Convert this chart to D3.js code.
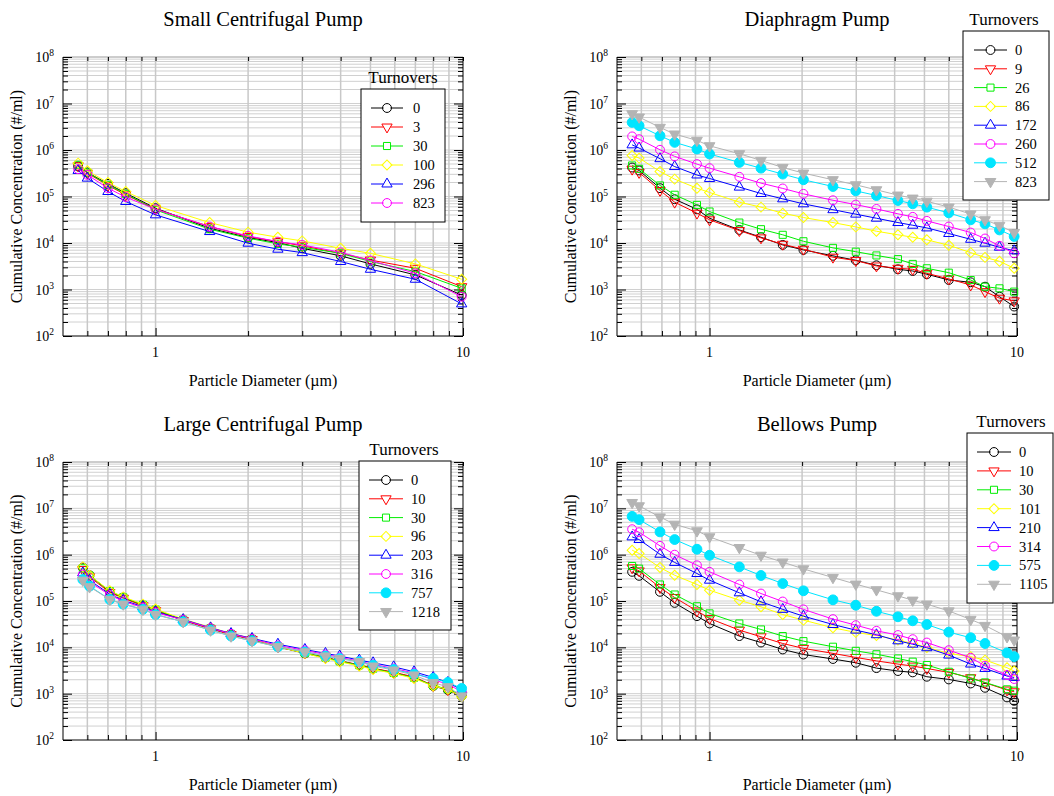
<!DOCTYPE html>
<html><head><meta charset="utf-8">
<script src="https://cdn.jsdelivr.net/npm/d3@7"></script>
<style>
body{margin:0;background:#fff}
text{font-family:"Liberation Serif","Times New Roman",Times,serif;fill:#000}
</style>
</head><body>
<svg id="c" width="1054" height="796"></svg>
<script>
// ---------------- DATA ----------------
const xTickLabels = [1, 10];
const yTickExponents = [2, 3, 4, 5, 6, 7, 8];
const legendTitle = "Turnovers";

// Small Centrifugal Pump
const smallTitle = "Small Centrifugal Pump";
const smallDiam = [0.56, 0.6, 0.7, 0.8, 1, 1.5, 2, 2.5, 3, 4, 5, 7, 9.9];
const smallTurnovers = ["0", "3", "30", "100", "296", "823"];
const small_0   = [4.43e5, 3.29e5, 1.87e5, 1.18e5, 5.6e4, 2.08e4, 1.31e4, 1.02e4, 7.7e3, 5.3e3, 3.55e3, 2.06e3, 7.6e2];
const small_3   = [4.57e5, 3.18e5, 1.73e5, 1.09e5, 5.33e4, 2.26e4, 1.38e4, 1.07e4, 8.7e3, 6.0e3, 4.3e3, 2.86e3, 1.15e3];
const small_30  = [4.81e5, 3.29e5, 1.78e5, 1.14e5, 5.16e4, 1.98e4, 1.27e4, 9.6e3, 8.1e3, 6.0e3, 4.0e3, 2.43e3, 1.06e3];
const small_100 = [5.22e5, 3.57e5, 2.0e5, 1.28e5, 6.4e4, 2.75e4, 1.71e4, 1.33e4, 1.11e4, 7.7e3, 6.0e3, 3.55e3, 1.66e3];
const small_296 = [3.63e5, 2.48e5, 1.28e5, 7.8e4, 4.03e4, 1.76e4, 9.9e3, 7.35e3, 6.2e3, 4.0e3, 2.72e3, 1.66e3, 4.9e2];
const small_823 = [3.87e5, 2.92e5, 1.51e5, 9.7e4, 5.33e4, 2.26e4, 1.42e4, 1.07e4, 9.1e3, 6.3e3, 4.2e3, 2.23e3, 7.0e2];

// Diaphragm Pump
const diaTitle = "Diaphragm Pump";
const diaDiam = [0.56, 0.59, 0.69, 0.77, 0.91, 1.0, 1.25, 1.47, 1.73, 2.02, 2.52, 2.99, 3.49, 4.1, 4.58, 5.09, 6.0, 7.07, 7.87, 8.77, 9.79];
const diaTurnovers = ["0", "9", "26", "86", "172", "260", "512", "823"];
const dia_0   = [4.2e5, 3.63e5, 1.51e5, 8.75e4, 5.3e4, 3.41e4, 1.91e4, 1.33e4, 9.1e3, 7.1e3, 5.3e3, 4.25e3, 3.32e3, 2.72e3, 2.5e3, 2.13e3, 1.6e3, 1.43e3, 1.15e3, 7.0e2, 4.3e2];
const dia_9   = [3.87e5, 3.29e5, 1.35e5, 7.55e4, 4.38e4, 3.15e4, 1.85e4, 1.29e4, 9.4e3, 7.35e3, 4.95e3, 4.19e3, 3.21e3, 2.86e3, 2.72e3, 2.23e3, 1.69e3, 1.25e3, 9.0e2, 6.5e2, 5.7e2];
const dia_26  = [4.65e5, 3.94e5, 1.73e5, 1.09e5, 6.6e4, 4.75e4, 2.75e4, 1.98e4, 1.5e4, 1.09e4, 7.85e3, 6.5e3, 5.4e3, 4.5e3, 3.55e3, 2.86e3, 2.3e3, 1.6e3, 1.15e3, 1.06e3, 9.0e2];
const dia_86  = [7.6e5, 6.7e5, 3.45e5, 2.36e5, 1.51e5, 1.22e5, 7.55e4, 5.9e4, 4.38e4, 3.53e4, 2.75e4, 2.22e4, 1.79e4, 1.5e4, 1.33e4, 1.17e4, 8.95e3, 6.2e3, 4.9e3, 4.05e3, 2.86e3];
const dia_172 = [1.29e6, 1.1e6, 6.5e5, 4.4e5, 2.9e5, 2.44e5, 1.59e5, 1.16e5, 8.9e4, 6.95e4, 5.2e4, 4.17e4, 3.41e4, 2.75e4, 2.41e4, 2.11e4, 1.6e4, 1.2e4, 9.9e3, 8.1e3, 6.8e3];
const dia_260 = [1.96e6, 1.71e6, 1.01e6, 7.3e5, 4.97e5, 4.07e5, 2.65e5, 1.94e5, 1.49e5, 1.14e5, 8.3e4, 6.7e4, 5.4e4, 4.24e4, 3.65e4, 2.99e4, 2.26e4, 1.68e4, 1.25e4, 8.7e3, 6.0e3];
const dia_512 = [3.92e6, 3.32e6, 2.02e6, 1.46e6, 1.05e6, 8.2e5, 5.4e5, 4.07e5, 3.03e5, 2.29e5, 1.64e5, 1.32e5, 1.05e5, 8.2e4, 6.95e4, 5.9e4, 4.45e4, 3.15e4, 2.58e4, 1.91e4, 1.38e4];
const dia_823 = [6.0e6, 5.1e6, 3.06e6, 2.2e6, 1.61e6, 1.23e6, 8.3e5, 5.96e5, 4.2e5, 3.18e5, 2.29e5, 1.78e5, 1.39e5, 1.07e5, 9.2e4, 7.9e4, 5.9e4, 4.2e4, 3.15e4, 2.38e4, 1.68e4];

// Large Centrifugal Pump
const largeTitle = "Large Centrifugal Pump";
const largeDiam = [0.58, 0.61, 0.71, 0.785, 0.91, 1.0, 1.23, 1.51, 1.76, 2.06, 2.5, 3.06, 3.57, 3.97, 4.6, 5.1, 5.95, 6.93, 8.0, 8.93, 9.9];
const largeTurnovers = ["0", "10", "30", "96", "203", "316", "757", "1218"];
const large_0    = [5.27e5, 3.6e5, 1.58e5, 1.19e5, 8.1e4, 6.3e4, 3.86e4, 2.55e4, 1.9e4, 1.5e4, 1.03e4, 7.4e3, 6.05e3, 5.1e3, 4.14e3, 3.5e3, 2.83e3, 2.24e3, 1.46e3, 1.2e3, 8.9e2];
const large_10   = [4.78e5, 3.32e5, 1.52e5, 1.15e5, 7.9e4, 6.2e4, 3.8e4, 2.5e4, 1.88e4, 1.48e4, 1.02e4, 7.6e3, 6.1e3, 5.1e3, 4.2e3, 3.55e3, 2.9e3, 2.3e3, 1.5e3, 1.22e3, 9.0e2];
const large_30   = [5.1e5, 3.55e5, 1.63e5, 1.2e5, 8.3e4, 6.5e4, 3.95e4, 2.6e4, 1.95e4, 1.52e4, 1.05e4, 7.5e3, 6.0e3, 5.0e3, 4.1e3, 3.45e3, 2.8e3, 2.2e3, 1.5e3, 1.25e3, 9.5e2];
const large_96   = [5.46e5, 3.6e5, 1.66e5, 1.23e5, 8.55e4, 6.7e4, 4.06e4, 2.69e4, 1.99e4, 1.56e4, 1.03e4, 7.4e3, 5.75e3, 4.9e3, 3.94e3, 3.33e3, 2.74e3, 2.13e3, 1.46e3, 1.24e3, 8.6e2];
const large_203  = [4.05e5, 2.81e5, 1.4e5, 1.04e5, 7.5e4, 5.85e4, 3.99e4, 2.64e4, 1.99e4, 1.56e4, 1.17e4, 9.0e3, 7.4e3, 6.5e3, 5.3e3, 4.65e3, 3.8e3, 2.97e3, 2.24e3, 1.75e3, 1.2e3];
const large_316  = [3.72e5, 2.59e5, 1.34e5, 9.9e4, 7.2e4, 5.65e4, 3.9e4, 2.6e4, 1.95e4, 1.52e4, 1.1e4, 8.6e3, 7.0e3, 6.1e3, 5.0e3, 4.3e3, 3.5e3, 2.8e3, 2.0e3, 1.6e3, 1.1e3];
const large_757  = [2.91e5, 2.09e5, 1.08e5, 8.55e4, 6.6e4, 5.1e4, 3.56e4, 2.35e4, 1.75e4, 1.38e4, 1.03e4, 8.0e3, 6.5e3, 5.75e3, 4.9e3, 4.14e3, 3.33e3, 2.65e3, 2.13e3, 1.75e3, 1.3e3];
const large_1218 = [2.81e5, 2.02e5, 1.08e5, 8.55e4, 6.6e4, 5.1e4, 3.56e4, 2.35e4, 1.75e4, 1.38e4, 1.03e4, 8.0e3, 6.5e3, 5.75e3, 4.9e3, 3.94e3, 3.23e3, 2.52e3, 1.72e3, 1.41e3, 8.9e2];

// Bellows Pump
const belTitle = "Bellows Pump";
const belDiam = [0.56, 0.59, 0.69, 0.77, 0.91, 1.0, 1.25, 1.47, 1.73, 2.02, 2.52, 2.99, 3.49, 4.1, 4.58, 5.09, 6.0, 7.07, 7.87, 9.28, 9.79];
const belTurnovers = ["0", "10", "30", "101", "210", "314", "575", "1105"];
const bel_0    = [4.26e5, 3.49e5, 1.58e5, 9.1e4, 4.71e4, 3.27e4, 1.75e4, 1.27e4, 9.0e3, 7.0e3, 5.6e3, 4.65e3, 3.56e3, 3.08e3, 2.88e3, 2.32e3, 2.03e3, 1.66e3, 1.34e3, 8.3e2, 7.0e2];
const bel_10   = [5.2e5, 4.47e5, 1.95e5, 1.19e5, 6.1e4, 4.2e4, 2.35e4, 1.69e4, 1.21e4, 9.5e3, 7.4e3, 6.05e3, 5.1e3, 4.35e3, 3.94e3, 3.5e3, 2.88e3, 2.21e3, 1.72e3, 1.2e3, 1.1e3];
const bel_30   = [5.7e5, 5.0e5, 2.27e5, 1.38e5, 7.7e4, 5.4e4, 3.27e4, 2.43e4, 1.75e4, 1.36e4, 1.03e4, 8.4e3, 7.1e3, 5.75e3, 4.9e3, 4.15e3, 2.97e3, 2.13e3, 1.75e3, 1.24e3, 1.16e3];
const bel_101  = [1.25e6, 1.06e6, 5.27e5, 3.6e5, 2.27e5, 1.71e5, 1.04e5, 7.5e4, 5.1e4, 3.86e4, 2.64e4, 2.1e4, 1.8e4, 1.43e4, 1.21e4, 9.95e3, 7.4e3, 6.3e3, 5.3e3, 3.63e3, 3.08e3];
const bel_210  = [2.42e6, 2.12e6, 1.02e6, 6.8e5, 3.92e5, 2.81e5, 1.5e5, 9.6e4, 6.6e4, 4.71e4, 3.11e4, 2.35e4, 1.87e4, 1.38e4, 1.17e4, 9.8e3, 6.8e3, 4.35e3, 3.5e3, 2.4e3, 2.24e3];
const bel_314  = [3.54e6, 3.05e6, 1.55e6, 1.0e6, 5.9e5, 4.26e5, 2.27e5, 1.45e5, 9.75e4, 6.6e4, 4.06e4, 3.01e4, 2.27e4, 1.84e4, 1.5e4, 1.27e4, 8.7e3, 5.95e3, 4.0e3, 2.52e3, 2.07e3];
const bel_575  = [6.7e6, 5.7e6, 3.1e6, 2.12e6, 1.31e6, 9.7e5, 5.45e5, 3.55e5, 2.38e5, 1.66e5, 1.06e5, 8.1e4, 6.0e4, 4.56e4, 3.74e4, 3.11e4, 2.13e4, 1.61e4, 1.21e4, 7.6e3, 6.3e3];
const bel_1105 = [1.33e7, 1.13e7, 6.5e6, 4.53e6, 3.26e6, 2.42e6, 1.42e6, 9.7e5, 6.9e5, 4.93e5, 3.21e5, 2.31e5, 1.74e5, 1.29e5, 1.04e5, 8.55e4, 6.1e4, 3.99e4, 2.96e4, 1.69e4, 1.43e4];

// ---------------- STYLE / LAYOUT ----------------
const seriesColors = ["#000000", "#ff0000", "#00ee00", "#ffff00", "#0000ff", "#ff00ff", "#00e5ff", "#b4b4b4"];
const seriesShapes = ["circle", "tridown", "square", "diamond", "triup", "circle", "dot", "tridownfill"];

const panels = [
  { title: smallTitle, diam: smallDiam, labels: smallTurnovers,
    series: [small_0, small_3, small_30, small_100, small_296, small_823],
    box: [63, 57, 463, 336],
    leg: { tx: 403, ty: 83, bx0: 361, by0: 89, bx1: 445, by1: 222, row0: 108, dy: 19, lx0: 371, lx1: 403, textX: 413 } },
  { title: diaTitle, diam: diaDiam, labels: diaTurnovers,
    series: [dia_0, dia_9, dia_26, dia_86, dia_172, dia_260, dia_512, dia_823],
    box: [617, 57, 1017, 336],
    leg: { tx: 1004, ty: 25, bx0: 963, by0: 31, bx1: 1049, by1: 200, row0: 50, dy: 18.8, lx0: 974, lx1: 1007, textX: 1015 } },
  { title: largeTitle, diam: largeDiam, labels: largeTurnovers,
    series: [large_0, large_10, large_30, large_96, large_203, large_316, large_757, large_1218],
    box: [63, 462, 463, 740],
    leg: { tx: 404, ty: 455, bx0: 359, by0: 461, bx1: 451, by1: 630, row0: 480, dy: 18.8, lx0: 369, lx1: 403, textX: 411 } },
  { title: belTitle, diam: belDiam, labels: belTurnovers,
    series: [bel_0, bel_10, bel_30, bel_101, bel_210, bel_314, bel_575, bel_1105],
    box: [617, 462, 1017, 740],
    leg: { tx: 1011, ty: 427, bx0: 967, by0: 433, bx1: 1053, by1: 603, row0: 452, dy: 18.9, lx0: 977, lx1: 1011, textX: 1019 } }
];

const svg = d3.select("#c");

const shapeSpec = {
  circle:      { type: d3.symbolCircle,   size: 62, rot: 0,   filled: false },
  dot:         { type: d3.symbolCircle,   size: 76, rot: 0,   filled: true },
  square:      { type: d3.symbolSquare,   size: 50, rot: 0,   filled: false },
  diamond:     { type: d3.symbolSquare,   size: 50, rot: 45,  filled: false },
  triup:       { type: d3.symbolTriangle, size: 46, rot: 0,   filled: false },
  tridown:     { type: d3.symbolTriangle, size: 46, rot: 180, filled: false },
  tridownfill: { type: d3.symbolTriangle, size: 50, rot: 180, filled: true }
};

function marker(sel, shape, color) {
  const s = shapeSpec[shape];
  sel.append("path")
    .attr("d", d3.symbol().type(s.type).size(s.size)())
    .attr("transform", `rotate(${s.rot})`)
    .attr("fill", s.filled ? color : "none")
    .attr("stroke", color)
    .attr("stroke-width", 1);
}

function drawPanel(p) {
  const [x0, y0, x1, y1] = p.box;
  const xs = d3.scaleLog().domain([0.5, 10]).range([x0, x1]);
  const ys = d3.scaleLog().domain([1e2, 1e8]).range([y1, y0]);
  const g = svg.append("g");

  const xGrid = [0.6, 0.7, 0.8, 0.9, 1, 2, 3, 4, 5, 6, 7, 8, 9];
  const yMinor = [];
  const yMajor = yTickExponents.map(e => Math.pow(10, e));
  for (let e = 2; e < 8; e++) for (let k = 2; k <= 9; k++) yMinor.push(k * Math.pow(10, e));

  // grid
  g.append("g").selectAll("line").data(yMinor.concat(yMajor.slice(1, -1))).join("line")
    .attr("x1", x0).attr("x2", x1).attr("y1", d => ys(d)).attr("y2", d => ys(d))
    .attr("stroke", "#d0d0d0").attr("stroke-width", 1);
  g.append("g").selectAll("line").data(xGrid).join("line")
    .attr("x1", d => xs(d)).attr("x2", d => xs(d)).attr("y1", y0).attr("y2", y1)
    .attr("stroke", "#c8c8c8").attr("stroke-width", 1.5);

  g.append("line").attr("x1", x0).attr("x2", x1).attr("y1", y0).attr("y2", y0)
    .attr("stroke", "#9a9a9a").attr("stroke-width", 1);

  const strip = s => s.select(".domain").remove();
  g.append("g").attr("transform", `translate(${x0},0)`)
    .call(d3.axisLeft(ys).tickValues(yMinor).tickSize(-5).tickFormat("")).call(strip);
  g.append("g").attr("transform", `translate(${x0},0)`)
    .call(d3.axisLeft(ys).tickValues(yMajor).tickSize(-9).tickFormat("")).call(strip);
  g.append("g").attr("transform", `translate(${x1},0)`)
    .call(d3.axisRight(ys).tickValues(yMinor).tickSize(-5).tickFormat("")).call(strip);
  g.append("g").attr("transform", `translate(${x1},0)`)
    .call(d3.axisRight(ys).tickValues(yMajor).tickSize(-9).tickFormat("")).call(strip);
  const xMinor = [0.6, 0.7, 0.8, 0.9, 2, 3, 4, 5, 6, 7, 8, 9];
  g.append("g").attr("transform", `translate(0,${y1})`)
    .call(d3.axisBottom(xs).tickValues(xMinor).tickSize(-5).tickFormat("")).call(strip);
  g.append("g").attr("transform", `translate(0,${y1})`)
    .call(d3.axisBottom(xs).tickValues(xTickLabels).tickSize(-8).tickFormat("")).call(strip);
  g.append("g").attr("transform", `translate(0,${y0})`)
    .call(d3.axisTop(xs).tickValues(xMinor.concat(xTickLabels)).tickSize(-4).tickFormat("")).call(strip);
  g.selectAll(".tick line").attr("stroke", "#000").attr("stroke-width", 1);

  g.append("line").attr("x1", x0).attr("x2", x0).attr("y1", y0).attr("y2", y1).attr("stroke", "#000");
  g.append("line").attr("x1", x1).attr("x2", x1).attr("y1", y0).attr("y2", y1).attr("stroke", "#000");
  g.append("line").attr("x1", x0).attr("x2", x1).attr("y1", y1).attr("y2", y1).attr("stroke", "#000");

  yTickExponents.forEach(e => {
    const t = g.append("text").attr("x", x0 - 9).attr("y", ys(Math.pow(10, e)) + 5)
      .attr("text-anchor", "end").style("font-size", "14px");
    t.append("tspan").text("10");
    t.append("tspan").attr("dy", -6).style("font-size", "9.5px").text(String(e));
  });
  xTickLabels.forEach(v => {
    g.append("text").attr("x", xs(v)).attr("y", y1 + 21).attr("text-anchor", "middle")
      .style("font-size", "14px").text(String(v));
  });

  g.append("text").attr("x", (x0 + x1) / 2).attr("y", y0 - 31).attr("text-anchor", "middle")
    .style("font-size", "20.5px").text(p.title);
  g.append("text").attr("x", (x0 + x1) / 2).attr("y", y1 + 50).attr("text-anchor", "middle")
    .style("font-size", "16px").text("Particle Diameter (\u00b5m)");
  g.append("text").attr("transform", `translate(${x0 - 41},${(y0 + y1) / 2}) rotate(-90)`)
    .attr("text-anchor", "middle").style("font-size", "16px").text("Cumulative Concentration (#/ml)");

  const line = d3.line().x(d => xs(d[0])).y(d => ys(d[1]));
  p.series.forEach((vals, i) => {
    const pts = p.diam.map((d, j) => [d, vals[j]]);
    const color = seriesColors[i];
    const sg = g.append("g");
    sg.append("path").attr("d", line(pts)).attr("fill", "none").attr("stroke", color).attr("stroke-width", 1);
    pts.forEach(pt => {
      const mg = sg.append("g").attr("transform", `translate(${xs(pt[0])},${ys(pt[1])})`);
      marker(mg, seriesShapes[i], color);
    });
  });

  const L = p.leg;
  g.append("text").attr("x", L.tx).attr("y", L.ty).attr("text-anchor", "middle")
    .style("font-size", "17px").text(legendTitle);
  g.append("rect").attr("x", L.bx0).attr("y", L.by0).attr("width", L.bx1 - L.bx0).attr("height", L.by1 - L.by0)
    .attr("fill", "#fff").attr("stroke", "#000").attr("stroke-width", 1);
  p.labels.forEach((lab, i) => {
    const yy = L.row0 + i * L.dy;
    const color = seriesColors[i];
    g.append("line").attr("x1", L.lx0).attr("x2", L.lx1).attr("y1", yy).attr("y2", yy)
      .attr("stroke", color).attr("stroke-width", 1);
    const mg = g.append("g").attr("transform", `translate(${(L.lx0 + L.lx1) / 2},${yy})`);
    mg.append("rect").attr("x", -3.5).attr("y", -3.5).attr("width", 7).attr("height", 7).attr("fill", "#fff");
    marker(mg, seriesShapes[i], color);
    g.append("text").attr("x", L.textX).attr("y", yy + 5).style("font-size", "14.5px").text(lab);
  });
}

panels.forEach(drawPanel);
</script>
</body></html>
